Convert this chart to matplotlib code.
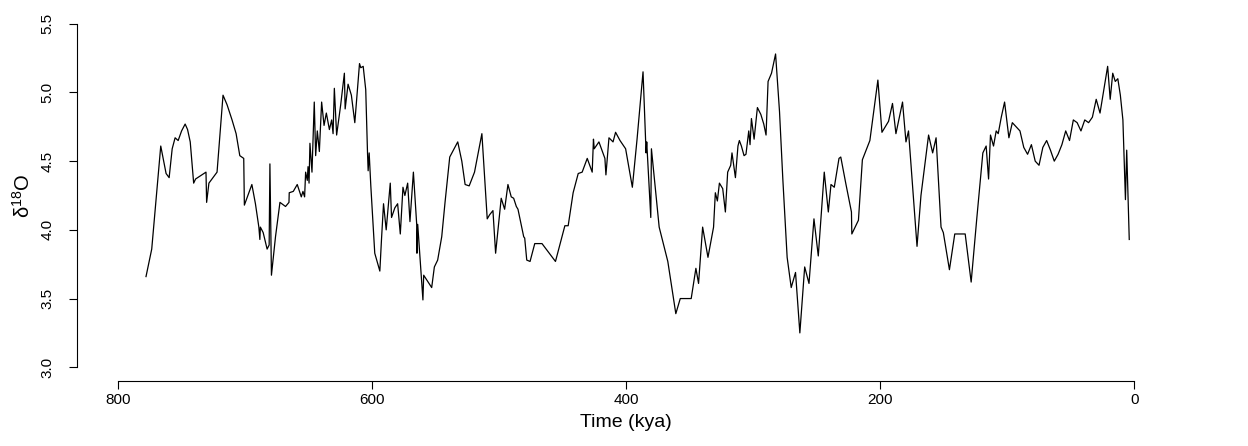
import matplotlib
matplotlib.use("Agg")
from matplotlib import pyplot as plt

plt.rcParams['font.family'] = ['Liberation Sans', 'DejaVu Sans']
plt.rcParams['mathtext.fontset'] = 'custom'
plt.rcParams['mathtext.rm'] = 'Liberation Sans'
plt.rcParams['mathtext.it'] = 'Liberation Sans:italic'

# time before present (kya) and d18O values
time_kya = [
    777.7, 773.2, 769.8, 766.1, 761.9, 759.5, 757.1, 754.8, 752.4, 749.7,
    746.9, 745.0, 742.9, 740.2, 738.7, 730.5, 730.0, 728.2, 725.8, 721.8,
    717.1, 713.9, 710.0, 706.8, 703.9, 700.8, 700.3, 694.4, 691.6, 688.9,
    688.1, 687.7, 685.5, 682.4, 680.8, 680.2, 679.0, 675.8, 672.3, 667.9,
    665.2, 665.0, 661.8, 658.7, 655.5, 654.2, 652.9, 652.1, 650.8, 650.2,
    649.4, 648.7, 647.1, 645.3, 644.2, 642.9, 641.3, 639.5, 637.6, 635.8,
    633.4, 631.6, 630.5, 629.5, 627.7, 624.5, 621.6, 621.0, 618.7, 616.1,
    613.4, 609.7, 608.7, 606.8, 604.8, 603.4, 602.9, 602.1, 600.8, 597.7,
    593.7, 592.4, 590.8, 588.7, 585.5, 584.5, 581.9, 579.7, 577.6, 575.5,
    574.0, 571.8, 570.0, 567.3, 564.7, 564.5, 563.9, 559.8, 559.2, 552.9,
    550.8, 548.2, 545.0, 542.4, 538.7, 532.4, 529.2, 526.6, 523.4, 519.2,
    517.1, 513.4, 509.2, 507.3, 504.7, 502.6, 498.2, 495.5, 492.9, 490.3,
    488.4, 486.3, 485.0, 480.5, 479.7, 478.1, 475.5, 471.8, 466.1, 455.5,
    448.1, 445.5, 441.6, 437.6, 434.5, 430.5, 426.6, 425.6, 425.0, 421.3,
    416.6, 415.8, 413.4, 410.2, 408.2, 404.7, 400.3, 395.0, 391.3, 386.6,
    384.2, 383.7, 380.5, 380.0, 373.9, 367.1, 360.8, 357.3, 348.7, 345.0,
    342.9, 339.7, 335.5, 331.1, 329.7, 328.1, 326.5, 323.9, 321.8, 320.0,
    317.6, 316.6, 313.9, 311.9, 310.8, 309.2, 307.1, 305.6, 303.4, 302.4,
    301.3, 299.2, 296.6, 293.9, 291.6, 289.8, 288.2, 285.5, 282.3, 279.2,
    276.6, 273.2, 270.0, 266.6, 263.2, 259.4, 256.0, 252.1, 248.7, 244.0,
    240.8, 238.7, 236.1, 232.4, 231.0, 227.1, 222.6, 222.3, 217.1, 214.0,
    208.1, 201.8, 198.6, 193.4, 190.3, 187.6, 182.4, 179.7, 177.7, 171.0,
    167.9, 161.9, 158.7, 156.0, 152.1, 150.3, 145.5, 141.3, 133.1, 128.4,
    124.0, 119.2, 116.6, 114.7, 113.2, 110.8, 108.7, 107.1, 104.7, 102.1,
    98.7, 96.0, 93.0, 90.0, 87.0, 84.0, 81.0, 78.0, 75.0, 72.0,
    69.0, 66.0, 63.0, 60.0, 57.0, 54.0, 51.0, 48.0, 45.0, 42.0,
    39.0, 36.0, 33.0, 30.0, 27.0, 24.0, 21.0, 19.0, 17.0, 15.0,
    13.0, 11.0, 9.0, 7.0, 6.0, 4.0,
]
d18o = [
    3.66, 3.86, 4.22, 4.61, 4.41, 4.38, 4.59, 4.67, 4.65, 4.72,
    4.77, 4.73, 4.64, 4.34, 4.37, 4.42, 4.20, 4.34, 4.37, 4.42,
    4.98, 4.91, 4.80, 4.70, 4.54, 4.52, 4.18, 4.33, 4.19, 4.02,
    3.93, 4.02, 3.98, 3.86, 3.89, 4.48, 3.67, 3.95, 4.20, 4.17,
    4.20, 4.27, 4.28, 4.33, 4.24, 4.28, 4.24, 4.42, 4.36, 4.46,
    4.34, 4.63, 4.42, 4.93, 4.54, 4.72, 4.57, 4.93, 4.76, 4.85,
    4.73, 4.80, 4.70, 5.03, 4.69, 4.91, 5.14, 4.88, 5.06, 4.98,
    4.78, 5.21, 5.18, 5.19, 5.02, 4.56, 4.43, 4.56, 4.32, 3.83,
    3.70, 3.93, 4.19, 4.00, 4.34, 4.09, 4.16, 4.19, 3.97, 4.31,
    4.25, 4.34, 4.06, 4.42, 4.04, 3.83, 4.04, 3.49, 3.67, 3.58,
    3.73, 3.78, 3.95, 4.20, 4.53, 4.64, 4.50, 4.33, 4.32, 4.42,
    4.52, 4.70, 4.08, 4.11, 4.14, 3.83, 4.23, 4.15, 4.33, 4.24,
    4.23, 4.17, 4.15, 3.95, 3.94, 3.78, 3.77, 3.90, 3.90, 3.77,
    4.03, 4.03, 4.27, 4.41, 4.42, 4.52, 4.42, 4.66, 4.59, 4.64,
    4.52, 4.40, 4.67, 4.64, 4.71, 4.65, 4.59, 4.31, 4.66, 5.15,
    4.56, 4.64, 4.09, 4.59, 4.02, 3.77, 3.39, 3.50, 3.50, 3.72,
    3.61, 4.02, 3.80, 4.02, 4.27, 4.21, 4.34, 4.30, 4.13, 4.42,
    4.47, 4.56, 4.38, 4.61, 4.65, 4.61, 4.54, 4.55, 4.72, 4.62,
    4.81, 4.66, 4.89, 4.84, 4.77, 4.69, 5.08, 5.14, 5.28, 4.86,
    4.37, 3.80, 3.58, 3.69, 3.25, 3.73, 3.61, 4.08, 3.81, 4.42,
    4.13, 4.33, 4.31, 4.52, 4.53, 4.34, 4.13, 3.97, 4.07, 4.51,
    4.65, 5.09, 4.71, 4.79, 4.92, 4.70, 4.93, 4.64, 4.72, 3.88,
    4.25, 4.69, 4.56, 4.67, 4.02, 3.98, 3.71, 3.97, 3.97, 3.62,
    4.08, 4.56, 4.61, 4.37, 4.69, 4.61, 4.72, 4.70, 4.82, 4.93,
    4.67, 4.78, 4.75, 4.72, 4.60, 4.55, 4.62, 4.50, 4.47, 4.60,
    4.65, 4.58, 4.50, 4.55, 4.62, 4.72, 4.65, 4.80, 4.78, 4.72,
    4.80, 4.78, 4.82, 4.95, 4.85, 5.02, 5.19, 4.95, 5.14, 5.08,
    5.10, 4.98, 4.80, 4.22, 4.58, 3.93,
]

x_ticks = [800, 600, 400, 200, 0]
y_ticks = [3.0, 3.5, 4.0, 4.5, 5.0, 5.5]

fig = plt.figure(figsize=(12.48, 4.46), dpi=100)
ax = fig.add_axes([77 / 1248, 65 / 446, (1175 - 77) / 1248, (381 - 10) / 446])

ax.plot(time_kya, d18o, color='black', linewidth=0.9)

# R-like axis extension (4 %) with reversed time
ax.set_xlim(832, -32)
ax.set_ylim(2.9, 5.6)

ax.set_xticks(x_ticks)
ax.set_xticklabels([str(t) for t in x_ticks])
ax.set_yticks(y_ticks)
ax.set_yticklabels(['%.1f' % v for v in y_ticks], rotation=90, va='center')

ax.tick_params(axis='both', direction='out', length=6, width=0.8, labelsize=11)
ax.tick_params(axis='x', pad=3)
ax.tick_params(axis='y', pad=10)

for side in ('top', 'right'):
    ax.spines[side].set_visible(False)
ax.spines['left'].set_bounds(3.0, 5.5)
ax.spines['bottom'].set_bounds(0, 800)
ax.spines['left'].set_linewidth(0.8)
ax.spines['bottom'].set_linewidth(0.8)

ax.set_xlabel('Time (kya)', fontsize=14, labelpad=5)
ax.set_ylabel(r'δ$^{18}$O', fontsize=14.5, labelpad=5)

fig.savefig('out.png', dpi=100)
